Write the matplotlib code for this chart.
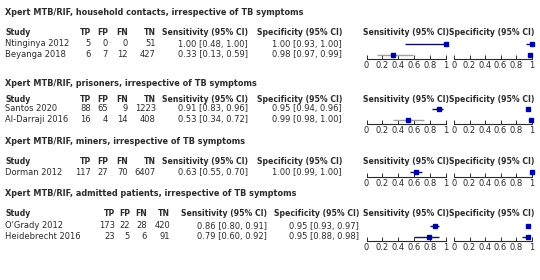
import matplotlib

matplotlib.use("Agg")
import matplotlib.pyplot as plt

W, H = 540, 280

TITLES = [
    "Xpert MTB/RIF, household contacts, irrespective of TB symptoms",
    "Xpert MTB/RIF, prisoners, irrespective of TB symptoms",
    "Xpert MTB/RIF, miners, irrespective of TB symptoms",
    "Xpert MTB/RIF, admitted patients, irrespective of TB symptoms",
]
STUDIES = [
    ["Ntinginya 2012", "Beyanga 2018"],
    ["Santos 2020", "Al-Darraji 2016"],
    ["Dorman 2012"],
    ["O'Grady 2012", "Heidebrecht 2016"],
]
TP = [[5, 6], [88, 16], [117], [173, 23]]
FP = [[0, 7], [65, 4], [27], [22, 5]]
FN = [[0, 12], [9, 14], [70], [28, 6]]
TN = [[51, 427], [1223, 408], [6407], [420, 91]]
SENS = [[1.00, 0.33], [0.91, 0.53], [0.63], [0.86, 0.79]]
SENS_LO = [[0.48, 0.13], [0.83, 0.34], [0.55], [0.80, 0.60]]
SENS_HI = [[1.00, 0.59], [0.96, 0.72], [0.70], [0.91, 0.92]]
SPEC = [[1.00, 0.98], [0.95, 0.99], [1.00], [0.95, 0.95]]
SPEC_LO = [[0.93, 0.97], [0.94, 0.98], [0.99], [0.93, 0.88]]
SPEC_HI = [[1.00, 0.99], [0.96, 1.00], [1.00], [0.97, 0.98]]
TICKS = [0, 0.2, 0.4, 0.6, 0.8, 1]
TICK_LABELS = ["0", "0.2", "0.4", "0.6", "0.8", "1"]

# layout in pixels: title y, header y, first row y, column right edges
LAYOUT = [
    (12.5, 32.5, 44.0, (91, 108, 128, 156, 248, 342)),
    (83.0, 99.5, 108.8, (91, 108, 128, 156, 248, 342)),
    (141.0, 161.0, 172.3, (91, 108, 128, 156, 248, 342)),
    (193.5, 214.0, 226.0, (115, 130, 147, 170, 267, 359)),
]
ROW_STEP = 10.7
AXIS_GAP = 4.6
SENS_X = (366.5, 445.7)
SPEC_X = (454.0, 531.7)
HEAD_SENS_X = 363
HEAD_SPEC_X = 449

TEXT = "#2b2b2b"
MARK = "#0000a8"
LINE = "#101060"
GREY = "#a0a0a0"
GREY_CI = {"Beyanga 2018", "Al-Darraji 2016"}
FS = 6.0
FS_HEAD = 5.6
FS_TITLE = 5.9

plt.rcParams["font.family"] = "DejaVu Sans"

fig = plt.figure(figsize=(W / 100, H / 100), dpi=100)
bg = fig.add_axes([0, 0, 1, 1])
bg.set_xlim(0, W)
bg.set_ylim(H, 0)
bg.axis("off")


def ci_text(v, lo, hi):
    return f"{v:.2f} [{lo:.2f}, {hi:.2f}]"


def forest_axes(x_range, top, axis_y, n):
    x0, x1 = x_range
    ax = fig.add_axes([x0 / W, 1 - axis_y / H, (x1 - x0) / W, (axis_y - top) / H])
    ax.set_xlim(0, 1)
    ax.set_ylim((axis_y - top) / ROW_STEP - 0.6, -0.6)
    ax.patch.set_alpha(0)
    for side in ("top", "left", "right"):
        ax.spines[side].set_visible(False)
    ax.spines["bottom"].set_linewidth(0.8)
    ax.spines["bottom"].set_color(TEXT)
    ax.set_yticks([])
    ax.set_xticks(TICKS)
    ax.set_xticklabels(TICK_LABELS)
    ax.tick_params(axis="x", direction="in", length=3, width=0.7, pad=1.2,
                   labelsize=FS, colors=TEXT)
    return ax


for s, title in enumerate(TITLES):
    title_y, head_y, row0, cols = LAYOUT[s]
    bg.text(5, title_y, title, fontsize=FS_TITLE, fontweight="bold", color=TEXT,
            va="center", ha="left")

    headers = ["TP", "FP", "FN", "TN", "Sensitivity (95% CI)", "Specificity (95% CI)"]
    bg.text(5, head_y, "Study", fontsize=FS_HEAD, fontweight="bold", color=TEXT,
            va="center")
    for x, h in zip(cols, headers):
        bg.text(x, head_y, h, fontsize=FS_HEAD, fontweight="bold", color=TEXT,
                va="center", ha="right")
    bg.text(HEAD_SENS_X, head_y, "Sensitivity (95% CI)", fontsize=FS_HEAD,
            fontweight="bold", color=TEXT, va="center", ha="left")
    bg.text(HEAD_SPEC_X, head_y, "Specificity (95% CI)", fontsize=FS_HEAD,
            fontweight="bold", color=TEXT, va="center", ha="left")

    n = len(STUDIES[s])
    for i, study in enumerate(STUDIES[s]):
        y = row0 + i * ROW_STEP
        bg.text(5, y, study, fontsize=FS, color=TEXT, va="center")
        vals = [TP[s][i], FP[s][i], FN[s][i], TN[s][i]]
        for x, v in zip(cols[:4], vals):
            bg.text(x, y, str(v), fontsize=FS, color=TEXT, va="center", ha="right")
        bg.text(cols[4], y, ci_text(SENS[s][i], SENS_LO[s][i], SENS_HI[s][i]),
                fontsize=FS, color=TEXT, va="center", ha="right")
        bg.text(cols[5], y, ci_text(SPEC[s][i], SPEC_LO[s][i], SPEC_HI[s][i]),
                fontsize=FS, color=TEXT, va="center", ha="right")

    axis_y = row0 + (n - 1) * ROW_STEP + AXIS_GAP
    top = row0 - 0.6 * ROW_STEP
    ax_sens = forest_axes(SENS_X, top, axis_y, n)
    ax_spec = forest_axes(SPEC_X, top, axis_y, n)
    for i, study in enumerate(STUDIES[s]):
        c = GREY if study in GREY_CI else LINE
        ax_sens.hlines(i, SENS_LO[s][i], SENS_HI[s][i], color=c, lw=1.0, clip_on=False)
        ax_sens.plot(SENS[s][i], i, marker="s", ms=3.3, color=MARK, clip_on=False)
        ax_spec.hlines(i, SPEC_LO[s][i], SPEC_HI[s][i], color=LINE, lw=1.0, clip_on=False)
        ax_spec.plot(SPEC[s][i], i, marker="s", ms=3.3, color=MARK, clip_on=False)

fig.savefig("out.png", dpi=100)
